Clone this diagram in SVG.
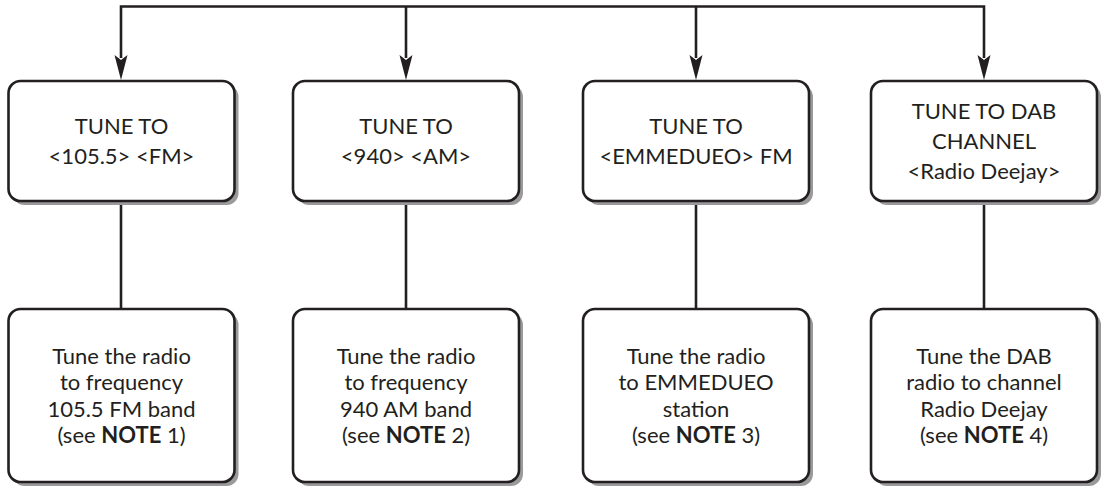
<svg xmlns="http://www.w3.org/2000/svg" width="1102" height="487" viewBox="0 0 1102 487">
<style>
.shadow{fill:#9a9a9c;stroke:none}
.box{fill:#fff;stroke:#231f20;stroke-width:2.6}
.line{fill:none;stroke:#231f20;stroke-width:2.6}
.head{fill:#231f20;stroke:none}
text{font-family:Lato,"Liberation Sans",sans-serif;font-size:22px;fill:#231f20;text-anchor:middle}
.b{font-weight:bold}
</style>
<rect width="1102" height="487" fill="#fff"/>
<g id="connectors">
<path class="line" d="M121,58 V6.5 H984 V58"/>
<path class="line" d="M406,6.5 V58"/>
<path class="line" d="M696,6.5 V58"/>
<path class="head" d="M121,80 L114.5,55 L121,60 L127.5,55 Z"/>
<path class="head" d="M406,80 L399.5,55 L406,60 L412.5,55 Z"/>
<path class="head" d="M696,80 L689.5,55 L696,60 L702.5,55 Z"/>
<path class="head" d="M984,80 L977.5,55 L984,60 L990.5,55 Z"/>
<path class="line" d="M121,201 V309"/>
<path class="line" d="M406,201 V309"/>
<path class="line" d="M696,201 V309"/>
<path class="line" d="M984,201 V309"/>
</g>
<g id="n1">
<rect class="shadow" x="12.5" y="85" width="226" height="120" rx="12"/>
<rect class="box" x="8.5" y="81" width="226" height="120" rx="12"/>
<text x="121.5" y="134">TUNE TO</text>
<text x="121.5" y="164">&lt;105.5&gt; &lt;FM&gt;</text>
</g>
<g id="n2">
<rect class="shadow" x="297" y="85" width="226" height="120" rx="12"/>
<rect class="box" x="293" y="81" width="226" height="120" rx="12"/>
<text x="406" y="134">TUNE TO</text>
<text x="406" y="164">&lt;940&gt; &lt;AM&gt;</text>
</g>
<g id="n3">
<rect class="shadow" x="587" y="85" width="226" height="120" rx="12"/>
<rect class="box" x="583" y="81" width="226" height="120" rx="12"/>
<text x="696" y="134">TUNE TO</text>
<text x="696" y="164">&lt;EMMEDUEO&gt; FM</text>
</g>
<g id="n4">
<rect class="shadow" x="875" y="85" width="226" height="120" rx="12"/>
<rect class="box" x="871" y="81" width="226" height="120" rx="12"/>
<text x="984" y="119">TUNE TO DAB</text>
<text x="984" y="149">CHANNEL</text>
<text x="984" y="179">&lt;Radio Deejay&gt;</text>
</g>
<g id="n5">
<rect class="shadow" x="12.5" y="313" width="226" height="173" rx="12"/>
<rect class="box" x="8.5" y="309" width="226" height="173" rx="12"/>
<text x="121.5" y="364">Tune the radio</text>
<text x="121.5" y="390">to frequency</text>
<text x="121.5" y="416.5">105.5 FM band</text>
<text x="121.5" y="443">(see <tspan class="b">NOTE</tspan> 1)</text>
</g>
<g id="n6">
<rect class="shadow" x="297" y="313" width="226" height="173" rx="12"/>
<rect class="box" x="293" y="309" width="226" height="173" rx="12"/>
<text x="406" y="364">Tune the radio</text>
<text x="406" y="390">to frequency</text>
<text x="406" y="416.5">940 AM band</text>
<text x="406" y="443">(see <tspan class="b">NOTE</tspan> 2)</text>
</g>
<g id="n7">
<rect class="shadow" x="587" y="313" width="226" height="173" rx="12"/>
<rect class="box" x="583" y="309" width="226" height="173" rx="12"/>
<text x="696" y="364">Tune the radio</text>
<text x="696" y="390">to EMMEDUEO</text>
<text x="696" y="416.5">station</text>
<text x="696" y="443">(see <tspan class="b">NOTE</tspan> 3)</text>
</g>
<g id="n8">
<rect class="shadow" x="875" y="313" width="226" height="173" rx="12"/>
<rect class="box" x="871" y="309" width="226" height="173" rx="12"/>
<text x="984" y="364">Tune the DAB</text>
<text x="984" y="390">radio to channel</text>
<text x="984" y="416.5">Radio Deejay</text>
<text x="984" y="443">(see <tspan class="b">NOTE</tspan> 4)</text>
</g>
</svg>
